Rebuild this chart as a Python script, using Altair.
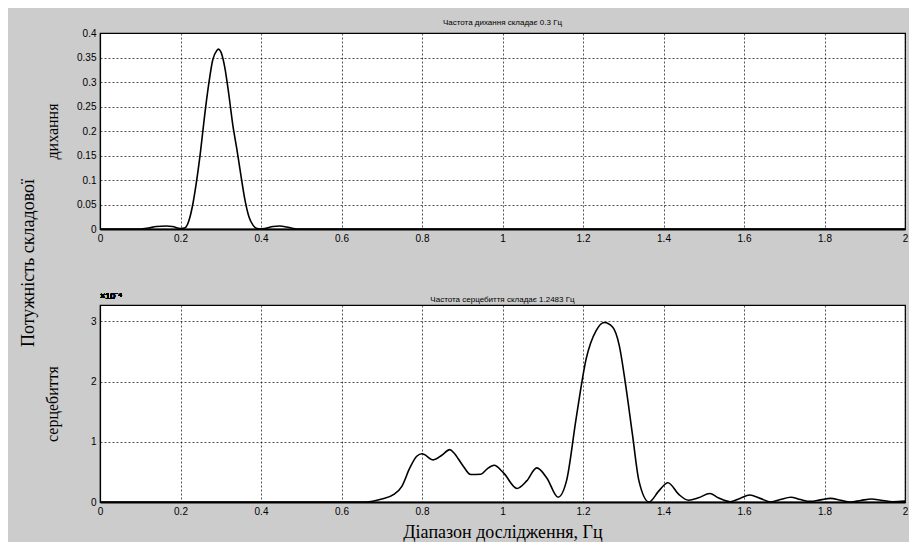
import altair as alt
import pandas as pd

# ---- data ----
resp_freq = [0.0, 0.10, 0.12, 0.14, 0.165, 0.18, 0.20, 0.21, 0.22, 0.23, 0.24, 0.25, 0.26,
             0.27, 0.28, 0.29, 0.294, 0.30, 0.31, 0.32, 0.33, 0.34, 0.35, 0.36, 0.37, 0.38,
             0.39, 0.40, 0.41, 0.43, 0.446, 0.47, 0.49, 2.0]
resp_power = [0.0, 0.0, 0.002, 0.005, 0.006, 0.005, 0.001, 0.002, 0.015, 0.048, 0.098, 0.16,
              0.232, 0.295, 0.345, 0.364, 0.367, 0.362, 0.33, 0.275, 0.212, 0.163, 0.11, 0.06,
              0.025, 0.008, 0.001, 0.0, 0.001, 0.005, 0.006, 0.003, 0.0, 0.0]

heart_freq = [0.0, 0.66, 0.70, 0.73, 0.75, 0.77, 0.787, 0.80, 0.828, 0.85, 0.869, 0.88, 0.90,
              0.921, 0.946, 0.962, 0.979, 1.003, 1.036, 1.06, 1.085, 1.11, 1.138, 1.159, 1.183,
              1.208, 1.233, 1.253, 1.274, 1.29, 1.306, 1.323, 1.339, 1.364, 1.388, 1.411, 1.438,
              1.462, 1.487, 1.515, 1.536, 1.565, 1.59, 1.614, 1.64, 1.667, 1.69, 1.716, 1.74,
              1.765, 1.79, 1.815, 1.84, 1.864, 1.89, 1.917, 1.94, 1.97, 2.0]
heart_power_x1e4 = [0.0, 0.0, 0.05, 0.126, 0.26, 0.57, 0.76, 0.80, 0.70, 0.78, 0.87, 0.81, 0.62,
                    0.456, 0.46, 0.55, 0.61, 0.48, 0.225, 0.35, 0.566, 0.40, 0.08, 0.35, 1.39,
                    2.38, 2.85, 2.98, 2.90, 2.60, 1.94, 1.115, 0.35, 0.0, 0.18, 0.32, 0.126,
                    0.03, 0.07, 0.14, 0.07, 0.005, 0.06, 0.115, 0.06, 0.0, 0.04, 0.08, 0.04,
                    0.01, 0.035, 0.06, 0.03, 0.0, 0.025, 0.05, 0.03, 0.005, 0.015]

x_ticks = [0, 0.2, 0.4, 0.6, 0.8, 1.0, 1.2, 1.4, 1.6, 1.8, 2.0]
resp_ticks = [0, 0.05, 0.1, 0.15, 0.2, 0.25, 0.3, 0.35, 0.4]
heart_ticks = [0, 1, 2, 3]

resp_title = "Частота дихання складає 0.3 Гц"
heart_title = "Частота серцебиття складає 1.2483 Гц"
overall_y_title = "Потужність складової"
resp_y_title = "дихання"
heart_y_title = "серцебиття"
x_title = "Діапазон дослідження, Гц"
exp_label = "×10⁻⁴"

resp_df = pd.DataFrame({"f": resp_freq, "p": resp_power})
heart_df = pd.DataFrame({"f": heart_freq, "p": heart_power_x1e4})

W = 805
SERIF = "Liberation Serif"
SANS = "Liberation Sans"

grid_kw = dict(grid=True, gridColor="black", gridDash=[2, 2], gridWidth=0.8, gridOpacity=0.85,
               domainColor="black", ticks=False, labelColor="black",
               labelFont=SANS, labelFontSize=10, labelPadding=4)

def x_axis(title=None):
    kw = dict(values=x_ticks, format="~g", labelFlush=False, domainWidth=2, **grid_kw)
    if title:
        kw.update(title=title, titleFont=SERIF, titleFontSize=18, titleFontWeight="normal",
                  titleColor="black", titlePadding=7)
    else:
        kw.update(title=None)
    return alt.Axis(**kw)

def y_axis(title, values):
    return alt.Axis(values=values, format="~g", title=title, titleFont=SERIF, titleFontSize=16,
                    titleFontWeight="normal", titleColor="black", titleX=-40, titleAnchor="middle",
                    domainWidth=1.2, **grid_kw)

top = alt.Chart(resp_df).mark_line(color="black", strokeWidth=1.6, interpolate="monotone").encode(
    x=alt.X("f:Q", scale=alt.Scale(domain=[0, 2], nice=False), axis=x_axis()),
    y=alt.Y("p:Q", scale=alt.Scale(domain=[0, 0.4], nice=False), axis=y_axis(resp_y_title, resp_ticks)),
).properties(
    width=W, height=196,
    title=alt.TitleParams(resp_title, font=SANS, fontSize=8, fontWeight="normal", color="black", offset=1),
)

heart_line = alt.Chart(heart_df).mark_line(color="black", strokeWidth=1.6, interpolate="monotone").encode(
    x=alt.X("f:Q", scale=alt.Scale(domain=[0, 2], nice=False), axis=x_axis(x_title)),
    y=alt.Y("p:Q", scale=alt.Scale(domain=[0, 3.27], nice=False), axis=y_axis(heart_y_title, heart_ticks)),
)
exp_text = alt.Chart(heart_df).mark_text(align="left", baseline="bottom", font=SANS, fontSize=9,
                                         color="black").encode(
    x=alt.value(0), y=alt.value(-4), text=alt.value(exp_label)
)
bottom = alt.layer(heart_line, exp_text).properties(
    width=W, height=197,
    title=alt.TitleParams(heart_title, font=SANS, fontSize=8, fontWeight="normal", color="black",
                          offset=4, dy=16),
)

chart = alt.vconcat(top, bottom, spacing=76, bounds="flush").properties(
    background="#cccccc",
    padding={"left": 12, "top": 10, "right": 0, "bottom": 0},
    title=alt.TitleParams(overall_y_title, orient="left", anchor="middle", font=SERIF, fontSize=18,
                          fontWeight="normal", color="black", offset=5, dx=17),
).configure_view(
    fill="white", stroke="black", strokeWidth=1.2
)

chart.save("out.html", embed_options={"renderer": "svg", "actions": False})
